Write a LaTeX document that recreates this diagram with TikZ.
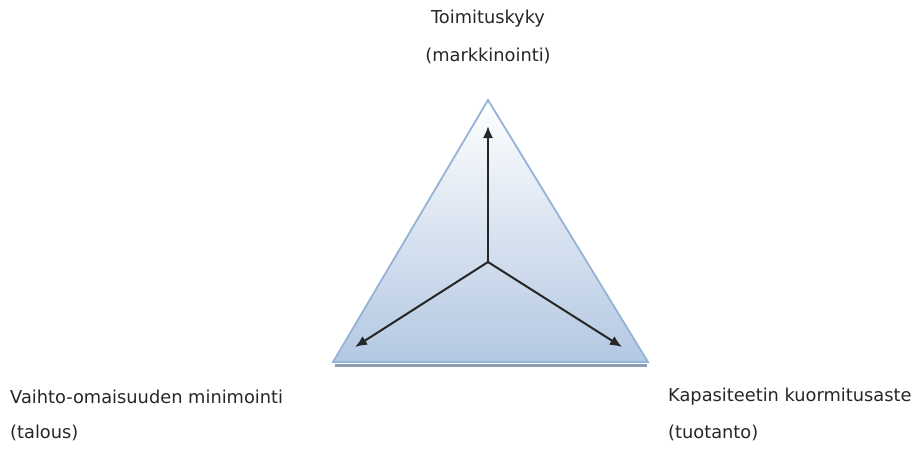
\documentclass[tikz,border=0pt]{standalone}
\usepackage{fontspec}
\setmainfont{DejaVu Sans}
\usetikzlibrary{arrows.meta,shadings}
\definecolor{triedge}{HTML}{95B3D7}
\definecolor{tribot}{HTML}{B3C8E2}
\definecolor{trishadow}{HTML}{8A9BB5}
\tikzset{
	label text/.style={inner sep=0pt, font=\fontsize{17.8}{20}\selectfont, text=black!85},
	axis arrow/.style={-{Latex[length=12pt,width=10pt]}, line width=2pt, black!85}
}
\begin{document}
\begin{tikzpicture}[x=1pt,y=-1pt]
			\useasboundingbox (0,0) rectangle (914,448);
			%\draw [help lines] (0,0) grid (914,448);
			\coordinate (top) at (488,100);
			\coordinate (left) at (333,362);
			\coordinate (right) at (648,362);
			\coordinate (mid) at (488,262);

			\draw[trishadow, line width=3pt] (335,365) -- (647,365);
			\shade[top color=white, bottom color=tribot, draw=triedge, line width=1.8pt] (top) -- (right) -- (left) -- cycle;

			\coordinate (upend) at (488,126);
			\coordinate (leftend) at (355,347);
			\coordinate (rightend) at (622,347);
			\draw[axis arrow] (mid) -- (upend);
			\draw[axis arrow] (mid) -- (leftend);
			\draw[axis arrow] (mid) -- (rightend);

			\node[label text] (toim) at (488,19) {Toimituskyky};
			\node[label text] (mark) at (488,56) {(markkinointi)};
			\node[label text, anchor=west] (vaihto) at (10,397) {Vaihto-omaisuuden minimointi};
			\node[label text, anchor=west] (talous) at (10,433) {(talous)};
			\node[label text, anchor=west] (kapa) at (668,397) {Kapasiteetin kuormitusaste};
			\node[label text, anchor=west] (tuot) at (668,433) {(tuotanto)};
		\end{tikzpicture}
\end{document}
